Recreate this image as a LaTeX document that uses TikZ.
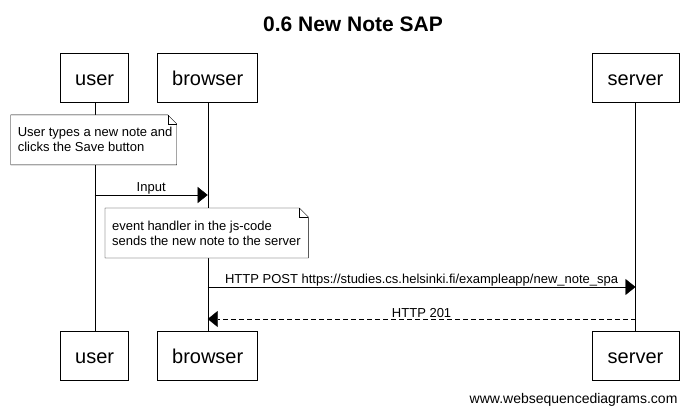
\documentclass[tikz,border=0pt]{standalone}
\usepackage{fontspec}
\setmainfont{Liberation Sans}
\usetikzlibrary{arrows.meta, backgrounds}

\begin{document}
\begin{tikzpicture}[x=1pt, y=-1pt, line width=1pt,
    part/.style={draw, minimum height=49pt, inner sep=0pt, text height=17pt, text depth=2pt, font=\fontsize{20}{24}\selectfont},
    notetext/.style={anchor=west, align=left, inner xsep=6.6pt, inner ysep=0pt, minimum height=49pt, font=\fontsize{13}{15}\selectfont},
    notebox/.style={draw, fill=white},
    msg/.style={-{Triangle[length=10pt, width=16pt]}},
    lbl/.style={above=0pt, inner sep=1pt, font=\fontsize{13}{15}\selectfont}]
    \useasboundingbox (0,0) rectangle (693,415);

    \node[font=\bfseries\fontsize{21}{25}\selectfont] (title) at (353,24) {0.6 New Note SAP};

    % participants
    \node[part, minimum width=68pt] (user) at (94.7,77.5) {user};
    \node[part, minimum width=100pt] (browser) at (207.7,77.5) {browser};
    \node[part, minimum width=87pt] (server) at (635.5,77.5) {server};
    \node[part, minimum width=68pt] (userB) at (94.7,356) {user};
    \node[part, minimum width=100pt] (browserB) at (207.7,356) {browser};
    \node[part, minimum width=87pt] (serverB) at (635.5,356) {server};

    % notes
    \node[notetext] (note1) at (10.7,139.8) {User types a new note and\\clicks the Save button};
    \node[notetext] (note2) at (105,233) {event handler in the js-code\\sends the new note to the server};

    \begin{pgfonlayer}{background}
    \draw (user) -- (userB);
    \draw (browser) -- (browserB);
    \draw (server) -- (serverB);
    \draw[notebox] (note1.north west) -- ++(157,0) -- ++(9,9) |- (note1.south west) -- cycle;
    \draw (note1.north west) ++(157,0) -- ++(0,9) -- ++(9,0);
    \draw[notebox] (note2.north west) -- ++(194.3,0) -- ++(9,9) |- (note2.south west) -- cycle;
    \draw (note2.north west) ++(194.3,0) -- ++(0,9) -- ++(9,0);
    \end{pgfonlayer}

    % messages
    \draw[msg] (user |- 0,195) -- node[lbl] {Input} (browser |- 0,195);
    \draw[msg] (browser |- 0,287) -- node[lbl] {HTTP POST https://studies.cs.helsinki.fi/exampleapp/new\_note\_spa} (server |- 0,287);
    \draw[msg, dash pattern=on 5pt off 3pt] (server |- 0,319) -- node[lbl] {HTTP 201} (browser |- 0,319);

    \node[anchor=east, font=\fontsize{14}{17}\selectfont] (wsd) at (681,400) {www.websequencediagrams.com};
\end{tikzpicture}
\end{document}
